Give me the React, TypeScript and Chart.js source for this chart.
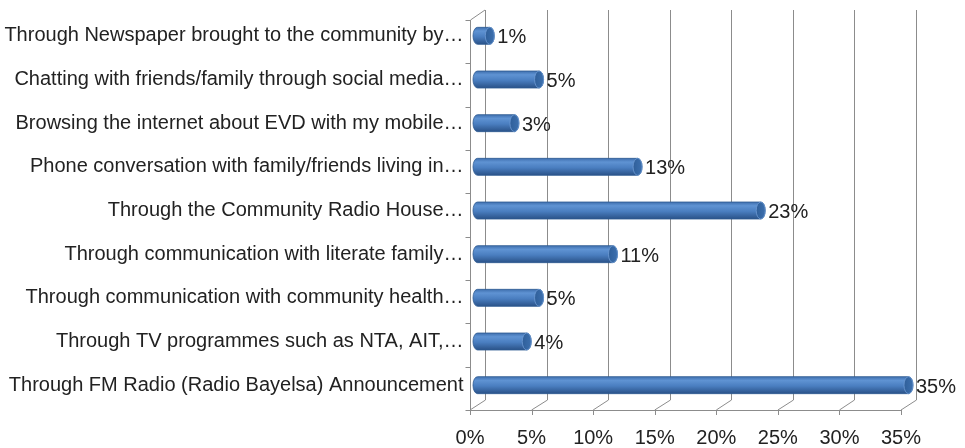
import React, { useEffect, useRef } from "react";
import { Chart, registerables } from "chart.js";

Chart.register(...registerables);

const categories = [
  "Through Newspaper brought to the community by…",
  "Chatting with friends/family through social media…",
  "Browsing the internet about EVD with my mobile…",
  "Phone conversation with family/friends living in…",
  "Through the Community Radio House…",
  "Through communication with literate family…",
  "Through communication with community health…",
  "Through TV programmes such as NTA, AIT,…",
  "Through FM Radio (Radio Bayelsa) Announcement",
];
const values = [1, 5, 3, 13, 23, 11, 5, 4, 35];
const valueLabels = ["1%", "5%", "3%", "13%", "23%", "11%", "5%", "4%", "35%"];

const DX = 7.5;
const DY = 5;
const FAMILY = "'Liberation Sans', Arial, sans-serif";
const FONT = "20px " + FAMILY;
const GRID = "#8c8c8c";

const frame3d = {
  id: "frame3d",
  beforeDatasetsDraw(chart: any) {
    const { ctx, chartArea } = chart;
    const xs = chart.scales.x;
    const top = chartArea.top + 1;
    const bottom = chartArea.bottom - 2;
    ctx.save();
    ctx.strokeStyle = GRID;
    ctx.lineWidth = 1;
    const ticks = xs.ticks.map((t: any) => t.value);
    ticks.forEach((v: number) => {
      const px = Math.round(xs.getPixelForValue(v) + DX) + 0.5;
      ctx.beginPath();
      ctx.moveTo(px, top - DY);
      ctx.lineTo(px, bottom - DY);
      ctx.stroke();
      ctx.beginPath();
      ctx.moveTo(px, bottom - DY);
      ctx.lineTo(xs.getPixelForValue(v) - DX, bottom + DY);
      ctx.stroke();
      const fx = Math.round(xs.getPixelForValue(v) - DX) + 0.5;
      ctx.beginPath();
      ctx.moveTo(fx, bottom + DY);
      ctx.lineTo(fx, bottom + DY + 5);
      ctx.stroke();
    });
    const fy = Math.round(bottom + DY) + 0.5;
    ctx.beginPath();
    ctx.moveTo(xs.getPixelForValue(0) - DX, fy);
    ctx.lineTo(xs.getPixelForValue(35) - DX, fy);
    ctx.stroke();
    const lx = Math.round(xs.getPixelForValue(0) - DX) + 0.5;
    ctx.beginPath();
    ctx.moveTo(lx, top + DY);
    ctx.lineTo(lx, bottom + DY);
    ctx.stroke();
    ctx.beginPath();
    ctx.moveTo(lx, top + DY);
    ctx.lineTo(xs.getPixelForValue(0) + DX, top - DY);
    ctx.stroke();
    const n = categories.length;
    const step = (bottom - top) / n;
    for (let i = 0; i <= n; i++) {
      const y = Math.round(top + i * step + DY) + 0.5;
      ctx.beginPath();
      ctx.moveTo(lx - 5, y);
      ctx.lineTo(lx, y);
      ctx.stroke();
    }
    ctx.restore();
  },
  afterDatasetsDraw(chart: any) {
    const { ctx } = chart;
    const meta = chart.getDatasetMeta(0);
    ctx.save();
    meta.data.forEach((bar: any, i: number) => {
      const x0 = bar.base;
      const x1 = bar.x;
      const h = bar.height;
      const yc = bar.y;
      const y0 = yc - h / 2;
      const rx = 4.5;
      const g = ctx.createLinearGradient(0, y0, 0, y0 + h);
      g.addColorStop(0, "#3f6fae");
      g.addColorStop(0.22, "#5f93d3");
      g.addColorStop(0.55, "#4a7ec0");
      g.addColorStop(1, "#2a5288");
      ctx.fillStyle = g;
      ctx.beginPath();
      ctx.moveTo(x0, y0);
      ctx.lineTo(x1, y0);
      ctx.ellipse(x1, yc, rx, h / 2, 0, -Math.PI / 2, Math.PI / 2, false);
      ctx.lineTo(x0, y0 + h);
      ctx.ellipse(x0, yc, rx, h / 2, 0, Math.PI / 2, Math.PI * 1.5, false);
      ctx.closePath();
      ctx.fill();
      ctx.strokeStyle = "#2d5a92";
      ctx.lineWidth = 0.8;
      ctx.stroke();
      const cg = ctx.createLinearGradient(x1 - rx, 0, x1 + rx, 0);
      cg.addColorStop(0, "#2f5f9a");
      cg.addColorStop(1, "#3d70ae");
      ctx.fillStyle = cg;
      ctx.beginPath();
      ctx.ellipse(x1, yc, rx, h / 2, 0, 0, Math.PI * 2);
      ctx.fill();
      ctx.strokeStyle = "#6f9bd3";
      ctx.lineWidth = 0.8;
      ctx.stroke();
      ctx.fillStyle = "#222222";
      ctx.font = FONT;
      ctx.textAlign = "left";
      ctx.textBaseline = "middle";
      ctx.fillText(valueLabels[i], x1 + rx + 3, yc + 2);
    });
    ctx.restore();
  },
};

export default function App() {
  const ref = useRef<HTMLCanvasElement>(null);
  useEffect(() => {
    if (!ref.current) return;
    const chart = new Chart(ref.current, {
      type: "bar",
      data: {
        labels: categories,
        datasets: [
          {
            data: values,
            backgroundColor: "rgba(0,0,0,0)",
            borderWidth: 0,
            barThickness: 17,
          },
        ],
      },
      options: {
        indexAxis: "y",
        animation: false,
        responsive: false,
        events: [],
        layout: { padding: { top: 14, right: 56.5, left: 0, bottom: 0 } },
        plugins: { legend: { display: false }, tooltip: { enabled: false } },
        scales: {
          x: {
            min: 0,
            max: 35,
            ticks: {
              stepSize: 5,
              callback: (v: any) => v + "%",
              color: "#222222",
              font: { family: FAMILY, size: 20 },
              padding: 19,
              labelOffset: -DX,
              maxRotation: 0,
            },
            grid: { display: false, drawTicks: false },
            border: { display: false },
            afterFit: (s: any) => {
              s.height = 41;
              s.paddingLeft = 0;
              s.paddingRight = 0;
            },
          },
          y: {
            ticks: {
              color: "#222222",
              font: { family: FAMILY, size: 20 },
              padding: 14,
              autoSkip: false,
            },
            grid: { display: false, drawTicks: false },
            border: { display: false },
            afterFit: (s: any) => {
              s.width = 477.5;
              s.paddingTop = 0;
              s.paddingBottom = 0;
            },
          },
        },
      },
      plugins: [frame3d],
    });
    return () => chart.destroy();
  }, []);
  return (
    <div style={{ position: "fixed", left: 0, top: 0, width: 965, height: 448, background: "#fff" }}>
      <canvas ref={ref} width={965} height={448} />
    </div>
  );
}
